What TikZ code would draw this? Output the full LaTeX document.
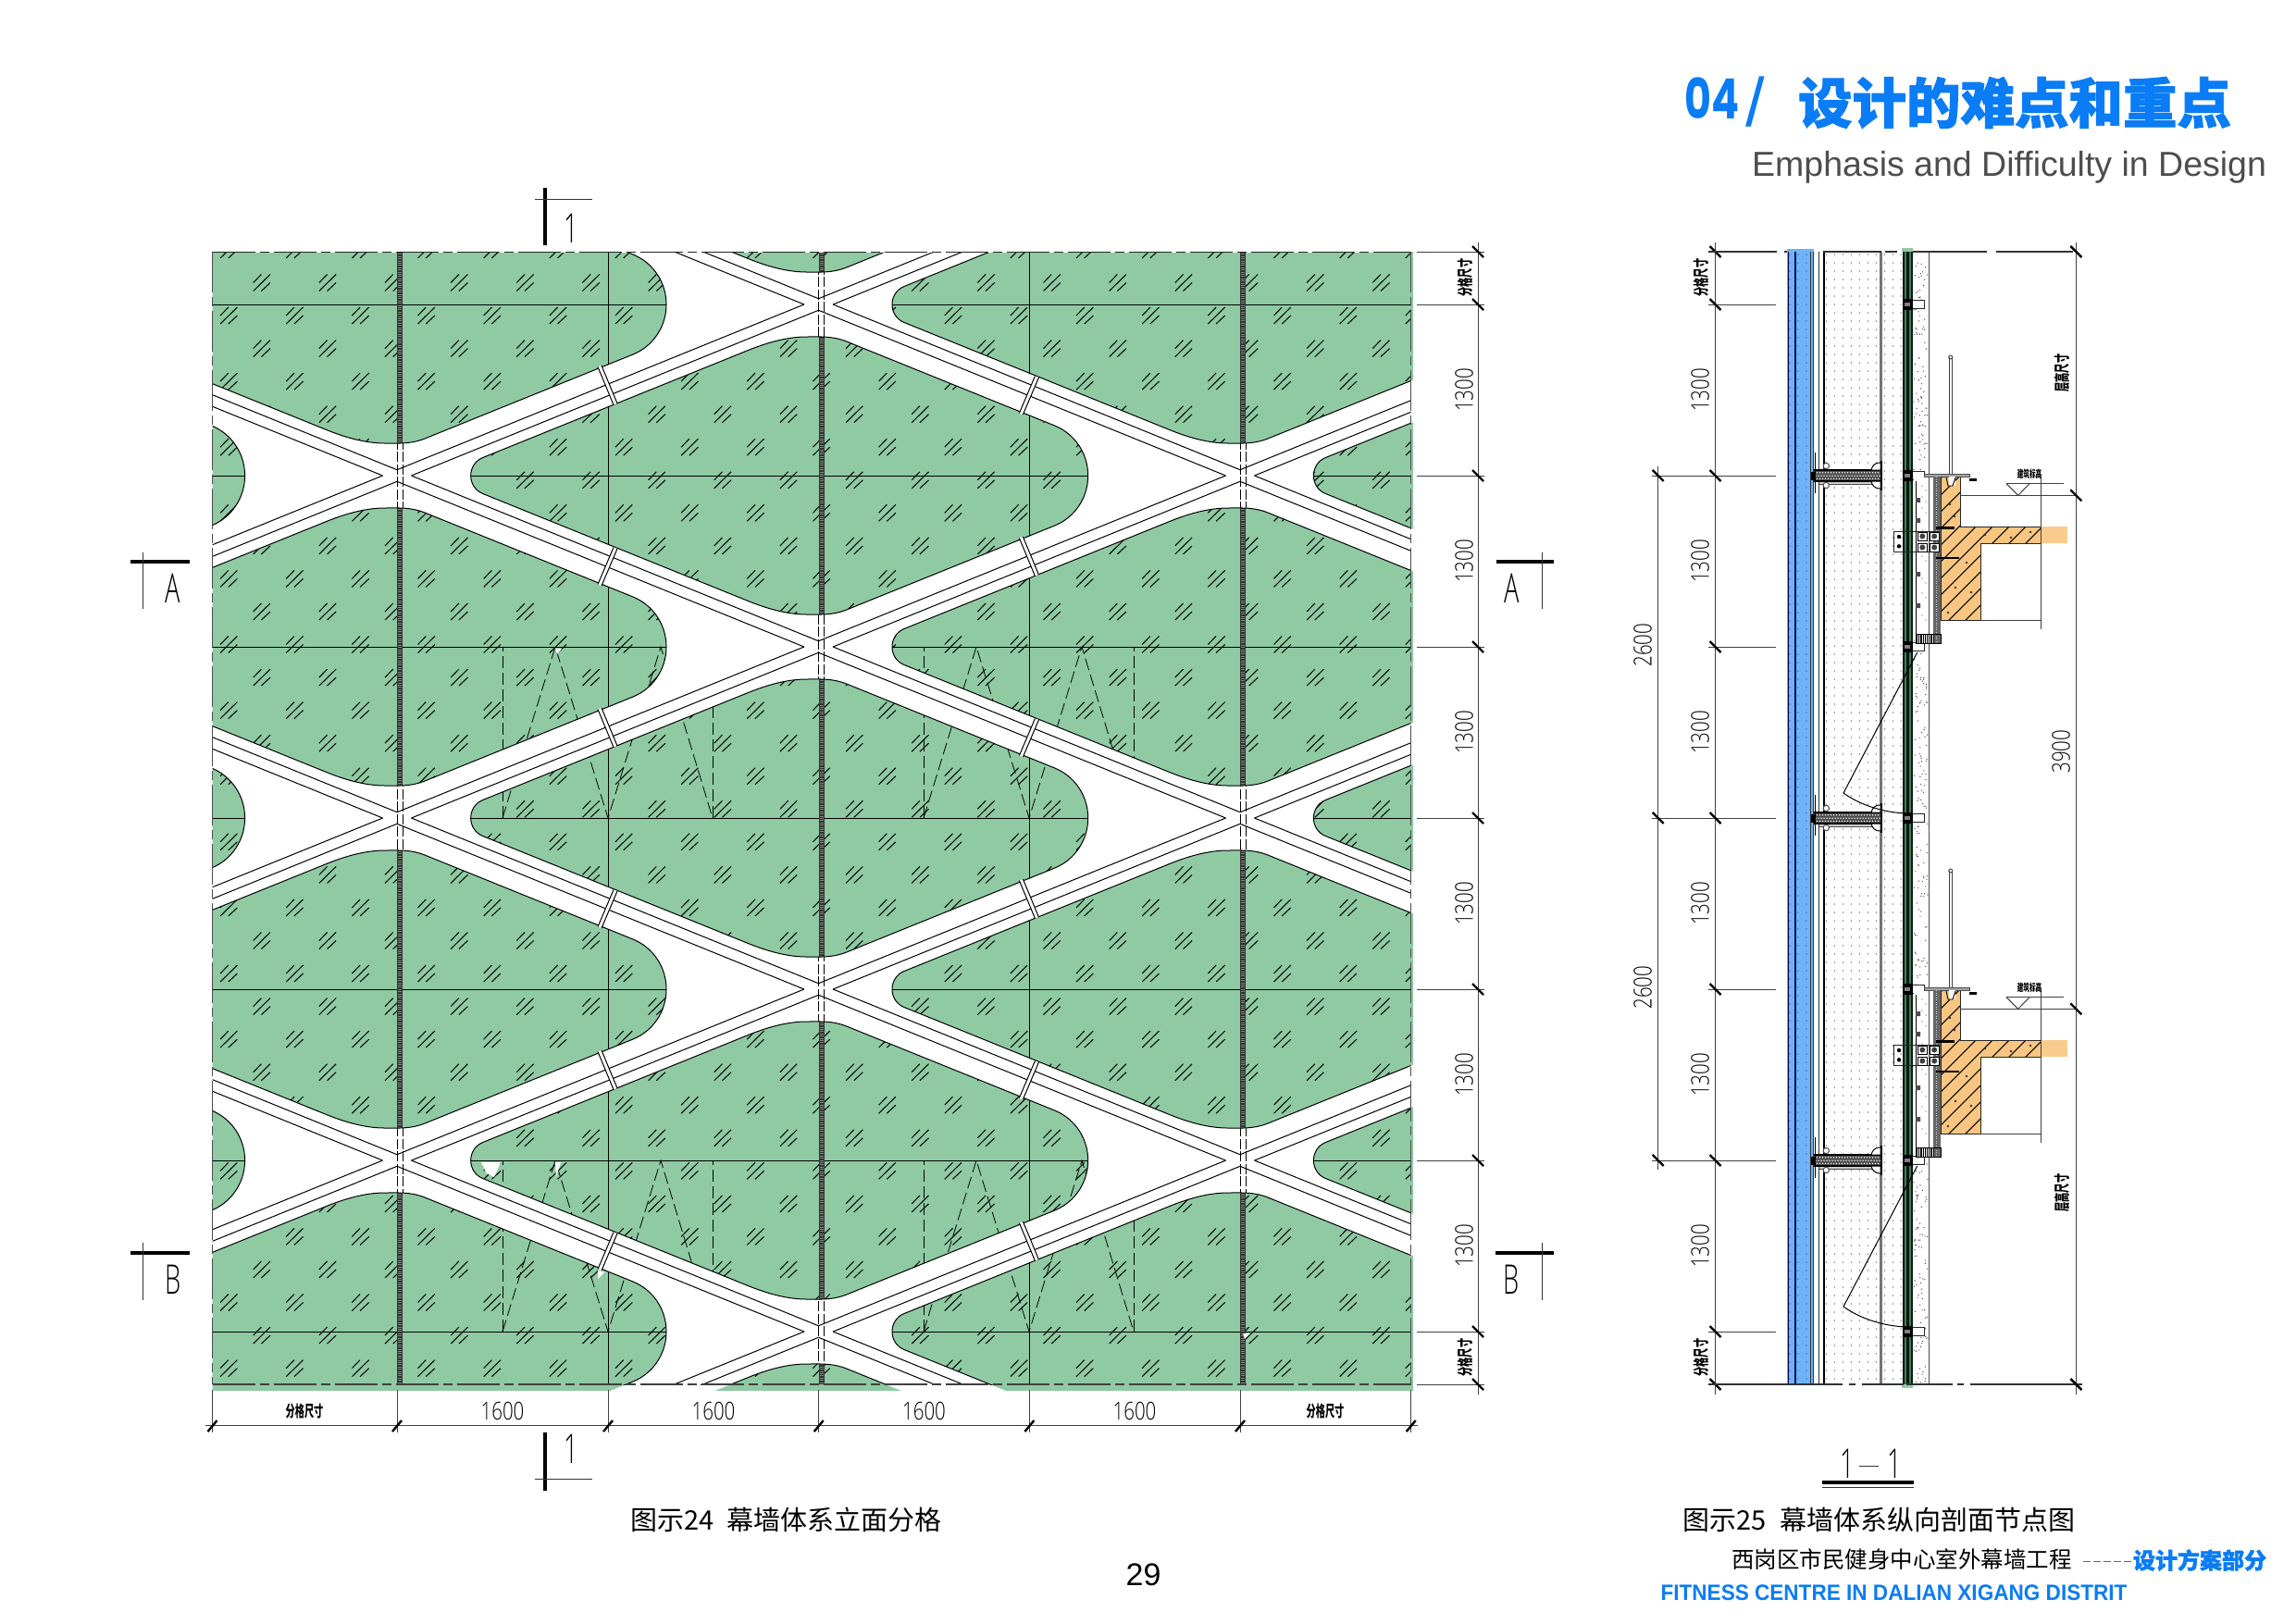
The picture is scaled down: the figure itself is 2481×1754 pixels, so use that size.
\documentclass[tikz,border=0pt]{standalone}
\usepackage{graphicx}
\usepackage{fontspec}
\setmainfont{Liberation Sans}
\newfontfamily\cjk{Noto Sans CJK SC}
\newfontfamily\cjkh{Noto Sans CJK SC}[BoldFeatures={FakeBold=1.6}]
\newfontfamily\cadf{Open Sans Light}
\newfontfamily\numf{Poppins}
\definecolor{gr}{HTML}{8FCAA3}
\definecolor{hb}{HTML}{0A7CF5}
\definecolor{pb}{HTML}{6FB3F7}
\definecolor{or}{HTML}{F8C680}
\definecolor{dg}{HTML}{3F7D55}
\newcommand\fs[1]{\fontsize{#1}{#1}\selectfont}
\newcommand\cad[1]{\scalebox{.77}[1]{\fs{26.6}\cadf #1}}
\newcommand\cadc[1]{\scalebox{.6}[1]{\fs{17}\cjk\bfseries #1}}
\newcommand\cadl[1]{\scalebox{.62}[1]{\fs{44}\cadf #1}}
\newcommand\cellp[2]{({#1-363},{#2-19.5}) -- ({#1-75},{#2-136}) .. controls ({#1-50},{#2-146}) and ({#1-30},{#2-150}) .. ({#1-13},{#2-150}) .. controls ({#1+2},{#2-150}) and ({#1+15},{#2-151}) .. ({#1+30},{#2-145}) -- ({#1+255},{#2-54}) .. controls ({#1+277},{#2-45}) and ({#1+291},{#2-23.6}) .. ({#1+291},{#2}) .. controls ({#1+291},{#2+23.6}) and ({#1+277},{#2+45}) .. ({#1+255},{#2+54}) -- ({#1+30},{#2+145}) .. controls ({#1+15},{#2+151}) and ({#1+2},{#2+150}) .. ({#1-13},{#2+150}) .. controls ({#1-30},{#2+150}) and ({#1-50},{#2+146}) .. ({#1-75},{#2+136}) -- ({#1-363},{#2+19.5}) .. controls ({#1-371},{#2+16.3}) and ({#1-376},{#2+8.6}) .. ({#1-376},{#2}) .. controls ({#1-376},{#2-8.6}) and ({#1-371},{#2-16.3}) .. ({#1-363},{#2-19.5}) -- cycle }
\newcommand\allcells{\cellp{429}{329} \cellp{429}{699} \cellp{429}{1069} \cellp{429}{1439} \cellp{1340}{329} \cellp{1340}{699} \cellp{1340}{1069} \cellp{1340}{1439} \cellp{884.7}{144} \cellp{884.7}{514} \cellp{884.7}{884} \cellp{884.7}{1254} \cellp{884.7}{1624} \cellp{-26.4}{514} \cellp{-26.4}{884} \cellp{-26.4}{1254} \cellp{1795.4}{514} \cellp{1795.4}{884} \cellp{1795.4}{1254} }
\newcommand\bandasc[4]{\draw[thinb] (#1,{#2-6.3}) -- ({#3-15.5},#4); \draw[thinb] ({#1+15.5},#2) -- (#3,{#4+6.3});}
\newcommand\banddesc[4]{\draw[thinb] ({#1+15.5},#2) -- (#3,{#4-6.3}); \draw[thinb] (#1,{#2+6.3}) -- ({#3-15.5},#4);}
\newcommand\tickasc[2]{\fill[white] ({#1-11},{#2-25}) -- ({#1-7},{#2-26.5}) -- ({#1+10},{#2+14.5}) -- ({#1+6},{#2+16}) -- cycle; \draw[thinb] ({#1-11},{#2-25}) -- ({#1+6},{#2+16}); \draw[thinb] ({#1-7},{#2-26.5}) -- ({#1+10},{#2+14.5});}
\newcommand\tickdesc[2]{\fill[white] ({#1+6},{#2-15}) -- ({#1+10},{#2-13.5}) -- ({#1-7},{#2+26.5}) -- ({#1-11},{#2+25}) -- cycle; \draw[thinb] ({#1+6},{#2-15}) -- ({#1-11},{#2+25}); \draw[thinb] ({#1+10},{#2-13.5}) -- ({#1-7},{#2+26.5});}
\tikzset{thinb/.style={black,line width=1pt},
 dimln/.style={black!75,line width=1pt},
 dimtk/.style={black,line width=2.4pt},
 secthick/.style={black,line width=4.4pt},
 secthin/.style={black!80,line width=1pt},
 winln/.style={black,line width=.8pt,dash pattern=on 13pt off 5pt},
 txt/.style={inner sep=0pt,outer sep=0pt},
 pl/.style={black!75,line width=1pt}}
\begin{document}
\begin{tikzpicture}[x=1pt,y=-1pt]
\useasboundingbox (0,0) rectangle (2481,1754);
\fill[white] (0,0) rectangle (2481,1754);
% white-band mullion dashes
\foreach \m in {429,884.7,1340}{
 \draw[black,line width=.8pt,dash pattern=on 11pt off 2.5pt] (\m,272) -- (\m,1496);
 \draw[black,line width=.8pt,dash pattern=on 11pt off 2.5pt] ({\m+6},272) -- ({\m+6},1496);}
% green cells
\begin{scope}
 \clip (229.5,272) rectangle (1527,1502);
 \fill[gr] \allcells;
\end{scope}
% contents of the cells
\begin{scope}
 \clip (229.5,272) rectangle (1524.7,1496);
 \clip \allcells;
 \foreach \m in {0,...,17}{\foreach \n in {0,...,17}{
  \pgfmathsetmacro\cx{283+71.15*\n}\pgfmathsetmacro\cy{305.5+71.1*\m}
  \draw[thinb] ({\cx-9.3},\cy) -- ({\cx-.6},{\cy-9}) ({\cx-9.3},{\cy+9}) -- ({\cx+9},{\cy-9}) ({\cx-.6},{\cy+9}) -- ({\cx+9},\cy);}}
 \foreach \m in {-1,...,16}{\foreach \n in {0,...,18}{
  \pgfmathsetmacro\cx{247.4+71.15*\n}\pgfmathsetmacro\cy{341+71.1*\m}
  \draw[thinb] ({\cx-9.3},\cy) -- ({\cx-.6},{\cy-9}) ({\cx-9.3},{\cy+9}) -- ({\cx+9},{\cy-9}) ({\cx-.6},{\cy+9}) -- ({\cx+9},\cy);}}
 \foreach \yy in {329,514,699,884,1069,1254,1439}{\draw[thinb] (229,\yy) -- (1525,\yy);}
 \foreach \xx in {657,1112.4}{\draw[thinb] (\xx,272) -- (\xx,1496);}
 \foreach \m in {432,887.7,1343}{
  \draw[black!80,line width=6pt] (\m,272) -- (\m,1496);
  \draw[black!50,line width=3.6pt,dash pattern=on 1pt off 1.4pt] (\m,272) -- (\m,1496);}
 % hidden window outlines
 \foreach \ox in {543,998}{\foreach \ty/\by in {699/884,1254/1439}{
  \draw[winln] (\ox,\by) -- (\ox,\ty);
  \draw[winln] ({\ox+227},\by) -- ({\ox+227},\ty);
  \draw[winln] (\ox,\by) -- ({\ox+57},\ty) -- ({\ox+114},\by) -- ({\ox+171},\ty) -- ({\ox+227},\by);}}
 \fill[white] (520,1256) -- (541,1256) -- (534,1272) -- (526,1268) -- cycle;
 \fill[white] (600,1256) -- (606,1256) -- (601,1272) -- cycle;
 \fill[white] (600,701) -- (607,701) -- (602,707) -- cycle;
 \fill[white] (1343,1441) -- (1350,1441) -- (1345,1447) -- cycle;
\end{scope}
% outlines and bands
\begin{scope}
 \clip (229.5,272) rectangle (1524.7,1496);
 \draw[thinb] \allcells;
 \foreach \cx in {429,1340}{\foreach \cy in {144,514,884,1254,1624}{
  \bandasc{\cx}{\cy}{\cx+455.4}{\cy-185}
  \banddesc{\cx}{\cy}{\cx+455.4}{\cy+185}
  \bandasc{\cx-455.4}{\cy+185}{\cx}{\cy}
  \banddesc{\cx-455.4}{\cy-185}{\cx}{\cy}}}
 \foreach \yy in {421.5,791.5,1161.5}{\tickasc{657}{\yy}\tickdesc{1112.4}{\yy}}
 \foreach \yy in {606.5,976.5,1346.5}{\tickdesc{657}{\yy}\tickasc{1112.4}{\yy}}
 \fill[white] (646,1372) -- (653,1375) -- (646,1382) -- cycle;
\end{scope}
% frame
\draw[white,line width=1.6pt] (229.5,272) -- (1524.7,272);
\draw[black!85,line width=1pt,dash pattern=on 46pt off 5pt on 10pt off 5pt] (229.5,272) -- (1524.7,272);
\draw[black!75,line width=1.1pt,dash pattern=on 46pt off 5pt on 10pt off 5pt] (229.5,1496) -- (1524.7,1496);
\draw[black!70,line width=.9pt,dash pattern=on 44pt off 5pt on 10pt off 5pt] (229.5,272) -- (229.5,1496);
\draw[black!70,line width=.9pt,dash pattern=on 44pt off 5pt on 10pt off 5pt] (1524.7,272) -- (1524.7,1496);
% bottom dimensions
\draw[dimln] (222,1540.7) -- (1532,1540.7);
\foreach \xx in {229.5,429,657,884.7,1112.4,1340,1524.7}{
 \draw[dimln] (\xx,1502) -- (\xx,1548);
 \draw[dimtk] ({\xx-5},1547) -- ({\xx+5},1535);}
\foreach \xx [count=\i] in {543,771,998.5,1226}{\node[txt] (b\i) at (\xx,1525) {\cad{1600}};}
\node[txt] (bl) at (329,1525) {\cadc{分格尺寸}};
\node[txt] (br) at (1432,1525) {\cadc{分格尺寸}};
% right dimensions
\draw[dimln] (1597,262) -- (1597,1507);
\foreach \yy in {272,329,514,699,884,1069,1254,1439,1496}{
 \draw[dimln] (1531,\yy) -- (1604,\yy);
 \draw[dimtk] (1591,{\yy-6}) -- (1603,{\yy+6});}
\foreach \yy [count=\i] in {421.5,606.5,791.5,976.5,1161.5,1346.5}{\node[txt,rotate=90] (r\i) at (1582,\yy) {\cad{1300}};}
\node[txt,rotate=90] (rt) at (1583,300) {\cadc{分格尺寸}};
\node[txt,rotate=90] (rb) at (1583,1467) {\cadc{分格尺寸}};
% section marks
\draw[secthick] (589,202.5) -- (589,265); \draw[secthin] (578,215) -- (640,215);
\node[txt] (s1t) at (617,247) {\cadl{1}};
\draw[secthick] (589,1548) -- (589,1611); \draw[secthin] (578,1598) -- (640,1598);
\node[txt] (s1b) at (617,1566) {\cadl{1}};
\draw[secthick] (141,607) -- (205,607); \draw[secthin] (154.5,597) -- (154.5,658);
\node[txt] (sal) at (187,636) {\cadl{A}};
\draw[secthick] (1617,607) -- (1679,607); \draw[secthin] (1666,597) -- (1666,658);
\node[txt] (sar) at (1634,636) {\cadl{A}};
\draw[secthick] (141,1354) -- (205,1354); \draw[secthin] (154.5,1343) -- (154.5,1405);
\node[txt] (sbl) at (187,1383) {\cadl{B}};
\draw[secthick] (1616,1354) -- (1679,1354); \draw[secthin] (1666,1343) -- (1666,1405);
\node[txt] (sbr) at (1633,1383) {\cadl{B}};
% ---------- section drawing ----------
\fill[pb] (1931,269) rectangle (1959.5,1497);
\fill[gr] (2055,268) rectangle (2067,272);
\fill[gr] (2055,1496) rectangle (2067,1500);
\fill[dg] (2056,272) rectangle (2066.7,1496);
% regular dots
\fill[black!60] foreach \xx in {1973.3,1982.3,1991.3,2000.3,2009.3,2018.3,2027.3,2036.7,2045.7,2054}{foreach \yy in {275,284,...,1493}{(\xx,\yy) circle[radius=.75]}};
\fill[black!40!blue!80!pb] foreach \xx in {1934,1943,1952}{foreach \yy in {275,284,...,1493}{(\xx,\yy) circle[radius=.7]}};
% stipple
\pgfmathsetseed{7}
\foreach \k in {1,...,450}{\pgfmathsetmacro\rx{2068+15*rnd}\pgfmathsetmacro\ry{275+1220*rnd}\fill[black!70] (\rx,\ry) circle[radius=.7];}
% vertical lines of the section
\draw[black!70!blue,line width=1pt] (1932,272) -- (1932,1496);
\draw[black!70!blue,line width=2pt] (1940,272) -- (1940,1496);
\draw[black!80,line width=1pt] (1956.5,272) -- (1956.5,1496);
\draw[black!80,line width=1.4pt] (1959.3,272) -- (1959.3,1496);
\draw[black!80,line width=1pt] (1965,272) -- (1965,1496);
\draw[black,line width=2pt] (1970.7,272) -- (1970.7,1496);
\draw[black!55,line width=3pt] (2032.7,272) -- (2032.7,1496);
\draw[black!80!dg,line width=1.6pt] (2057,272) -- (2057,1496);
\draw[black!80!dg,line width=2.6pt] (2061.5,272) -- (2061.5,1496);
\draw[black!80!dg,line width=1.4pt] (2066,272) -- (2066,1496);
\draw[black!70,line width=1pt] (2084.3,272) -- (2084.3,1496);
% clamps
\foreach \yy in {329,514,699,884,1069,1254,1439}{
 \fill[white] (2066.7,{\yy-5}) rectangle (2079.3,{\yy+4});
 \draw[black!85,line width=1pt] (2066.7,{\yy-5}) rectangle (2079.3,{\yy+4});
 \fill[black] (2056,{\yy-6}) rectangle (2066.7,{\yy+6});
 \fill[black!50] (2058,{\yy-2}) rectangle (2064,{\yy+2});}
% joints
\foreach \yy in {514,884,1254}{
 \fill[black!20] (1966,{\yy+6}) rectangle (2024,{\yy+9});
 \draw[black!70,line width=.7pt] (1966,{\yy+9}) -- (2024,{\yy+9});
 \fill[black!70] (1960,{\yy-6}) rectangle (2032,{\yy+6});
 \fill[white] foreach \k in {0,...,23}{({1963.5+3*\k},{\yy-3.2}) circle[radius=.8] ({1962+3*\k},{\yy+.2}) circle[radius=.8] ({1963.5+3*\k},{\yy+3.4}) circle[radius=.8]};
 \draw[black,line width=1.2pt] (1960,{\yy-6}) -- (2032,{\yy-6}) (1960,{\yy+6}) -- (2032,{\yy+6});
 \draw[black,line width=1pt] (1961,{\yy-25}) -- (1961,{\yy+19});
 \fill[black] (1957,{\yy-4}) rectangle (1962,{\yy+5});
 \draw[black,line width=2.4pt] (2033,{\yy-16}) -- (2033,{\yy+16});
 \draw[black,line width=1pt,fill=white] (2032,{\yy-14}) .. controls (2025,{\yy-14}) and (2023,{\yy-10}) .. (2022,{\yy-6}) -- (2032,{\yy-6}) -- cycle;
 \draw[black,line width=1pt,fill=white] (2032,{\yy+14}) .. controls (2025,{\yy+14}) and (2023,{\yy+10}) .. (2022,{\yy+6}) -- (2032,{\yy+6}) -- cycle;
 \draw[black!70,line width=1pt,fill=white] (1973.3,{\yy-10.5}) circle[radius=3.2];
 \draw[black!70,line width=1pt,fill=white] (1973.3,{\yy+10.5}) circle[radius=3.2];}
% floors
\foreach \fl in {0,555}{
\begin{scope}[shift={(0,\fl)}]
 \fill[or!90!white] (2205,569.3) rectangle (2234,587.3);
 \fill[white] (2068,515) rectangle (2084,685);
 \foreach \yy in {525,537,549,573,601,625,641,665}{\fill[black!70] (2077,\yy) circle[radius=.7] (2081,{\yy+5}) circle[radius=.6];}
 \fill[or] (2097.3,515) -- (2118.3,515) -- (2118.3,569.3) -- (2205.7,569.3) -- (2205.7,587.3) -- (2140,587.3) -- (2140,670.7) -- (2097.3,670.7) -- cycle;
 \begin{scope}
  \clip (2097.3,515) -- (2118.3,515) -- (2118.3,569.3) -- (2205.7,569.3) -- (2205.7,587.3) -- (2140,587.3) -- (2140,670.7) -- (2097.3,670.7) -- cycle;
  \foreach \xo in {1924,1942,...,2210}{\draw[black,line width=1.1pt] (\xo,690) -- ({\xo+175},515);}
  \fill[black!80] (2107,545) circle[radius=1.3] (2112,558) circle[radius=1.3] (2125,608) circle[radius=1.3] (2113,635) circle[radius=1.3] (2130,640) circle[radius=1.3] (2145,578) circle[radius=1.3] (2173,581) circle[radius=1.3] (2194,575) circle[radius=1.3] (2105,662) circle[radius=1.3];
 \end{scope}
 \draw[black!85,line width=1pt] (2097.3,670.7) -- (2097.3,515) -- (2118.3,515) -- (2118.3,569.3) -- (2205.7,569.3) (2205.7,587.3) -- (2140,587.3) -- (2140,670.7) -- (2097.3,670.7);
 \draw[pl] (2205.7,513) -- (2205.7,680);
 \draw[pl] (2140,670.7) -- (2205.7,670.7);
 \draw[pl] (2118.3,535.3) -- (2243,535.3);
 \draw[pl] (2168,522.7) -- (2230,522.7);
 \draw[pl] (2168,522.7) -- (2180.7,535.3) -- (2193,522.7);
 \node[txt] (lev\fl) at (2193,512) {\scalebox{.6}[1]{\fs{11}\cjk\bfseries 建筑标高}};
 \draw[black!75,line width=.9pt] (2106,386) -- (2106,513) (2109.5,386) -- (2109.5,513);
 \draw[black!75,line width=.9pt] (2107.7,386) circle[radius=2];
 \fill[black!35] (2079,512) rectangle (2128,515);
 \draw[black!70,line width=.6pt] (2079,512) rectangle (2128,515);
 \fill[black] (2128,517) rectangle (2136,520);
 \fill[white] (2106,515) rectangle (2113,525);
 \draw[black,line width=.9pt] (2103,516) -- (2105,525) -- (2110,525) -- (2113,516);
 % grey strip
 \fill[black!60] (2089,515) rectangle (2096.7,695);
 \draw[black!20,line width=.8pt,dash pattern=on 1pt off 1.5pt] (2092.8,515) -- (2092.8,695);
 \draw[black,line width=1pt] (2070,520) -- (2070,685);
 \fill[white] (2071,685) rectangle (2089,695);
 \foreach \k in {0,...,8}{\draw[black,line width=1.2pt] ({2071.5+2.2*\k*1},685) -- ({2071.5+2.2*\k},695);}
 \draw[black,line width=1pt] (2070.7,685) rectangle (2097,695);
 \fill[black!70] (2070,538) rectangle (2075,543) (2070,560) rectangle (2075,565) (2070,618) rectangle (2075,623) (2070,652) rectangle (2075,657);
 % bracket
 \draw[black!85,line width=1pt] (2046,574.5) rectangle (2095,596);
 \draw[black,line width=1pt,fill=white] (2072.7,575) rectangle (2082,584) (2072.7,587) rectangle (2082,596) (2085.5,575) rectangle (2095,584) (2085.5,587) rectangle (2095,596);
 \fill[black] foreach \xx/\yy in {2052/580,2052/590.3}{(\xx,\yy) circle[radius=2.2]};
 \fill[black!75] foreach \xx/\yy in {2077.3/579.5,2077.3/591.5,2090.2/579.5,2090.2/591.5}{(\xx,\yy) circle[radius=3]};
 \draw[black,line width=2.2pt] (2092,570.5) -- (2112,570.5) (2092,602.7) -- (2117,602.7);
\end{scope}}
% swing lines
\foreach \fl in {0,555}{
 \draw[black,line width=1pt] (2071.7,{705+\fl}) -- (1992,{857+\fl}) .. controls (2010,{870+\fl}) and (2035,{878+\fl}) .. (2060,{879+\fl});}
% section dimensions
\draw[dimln] (1853.5,262) -- (1853.5,1507);
\foreach \yy in {329,514,699,884,1069,1254,1439}{\draw[dimln] (1846,\yy) -- (1919,\yy);}
\foreach \yy in {272,329,514,699,884,1069,1254,1439,1496}{\draw[dimtk] (1847.5,{\yy-6}) -- (1859.5,{\yy+6});}
\foreach \xa/\xb in {1846/1920,1928/1931,1970/2033,2037/2050,2067/2147,2157/2240}{\draw[black!80,line width=1.2pt] (\xa,272) -- (\xb,272);}
\foreach \xa/\xb in {1846/1991,1998/2005,2012/2057,2060/2110,2115/2122,2129/2250}{\draw[black!80,line width=1.2pt] (\xa,1496) -- (\xb,1496);}
\foreach \yy [count=\i] in {421.5,606.5,791.5,976.5,1161.5,1346.5}{\node[txt,rotate=90] (m\i) at (1837,\yy) {\cad{1300}};}
\node[txt,rotate=90] (mt) at (1838,300) {\cadc{分格尺寸}};
\node[txt,rotate=90] (mb) at (1838,1467) {\cadc{分格尺寸}};
\draw[dimln] (1791.7,504) -- (1791.7,1264);
\foreach \yy in {514,884,1254}{\draw[dimln] (1785,\yy) -- (1853,\yy); \draw[dimtk] (1785.7,{\yy-6}) -- (1797.7,{\yy+6});}
\node[txt,rotate=90] (d1) at (1775,697) {\cad{2600}};
\node[txt,rotate=90] (d2) at (1775,1067) {\cad{2600}};
\draw[dimln] (2243.3,262) -- (2243.3,1507);
\foreach \yy in {272,535.3,1090.3,1496}{\draw[dimtk] (2237.3,{\yy-6}) -- (2249.3,{\yy+6});}
\node[txt,rotate=90] (fa) at (2228,403) {\cadc{层高尺寸}};
\node[txt,rotate=90] (fb) at (2228,1289) {\cadc{层高尺寸}};
\node[txt,rotate=90] (fc) at (2227,812) {\cad{3900}};
% 1-1
\node[txt] (s11a) at (1996,1582) {\cadl{1}};
\node[txt] (s11b) at (2047,1582) {\cadl{1}};
\draw[secthin] (2009,1584) -- (2030,1584);
\draw[black,line width=4pt] (1969,1602) -- (2068,1602);
\draw[secthin] (1969,1607.7) -- (2068,1607.7);
% texts
\node[txt] (cap1) at (849.5,1642) {\fs{29}\cjk 图示24\hspace{.5em}幕墙体系立面分格};
\node[txt] (cap2) at (2030.5,1642) {\fs{29}\cjk 图示25\hspace{.5em}幕墙体系纵向剖面节点图};
\node[txt] (pg) at (1235.5,1702) {\fs{34}29};
\node[txt] (t04) at (1850,106) {\scalebox{.74}[1]{\fs{60}\color{hb}\numf\bfseries 04}};
\node[txt] (tsl) at (1897,110.5) {\fs{74}\color{hb}/};
\node[txt] (ttl) at (2177,111) {\fs{58.5}\color{hb}\cjkh\bfseries 设计的难点和重点};
\node[txt,anchor=base east] (ten) at (2449,190) {\fs{37.5}\color[HTML]{4D4D4D}Emphasis and Difficulty in Design};
\node[txt] (f1) at (2055,1685) {\fs{24.5}\cjk 西岗区市民健身中心室外幕墙工程};
\draw[black!60,line width=1pt,dash pattern=on 8pt off 3pt] (2251,1687) -- (2303,1687);
\node[txt] (f2) at (2377,1686) {\fs{24}\color{hb}\cjkh\bfseries 设计方案部分};
\node[txt] (f3) at (2046.5,1721) {\scalebox{.94}[1]{\fs{24}\color{hb}\bfseries FITNESS CENTRE IN DALIAN XIGANG DISTRIT}};
\end{tikzpicture}
\end{document}
